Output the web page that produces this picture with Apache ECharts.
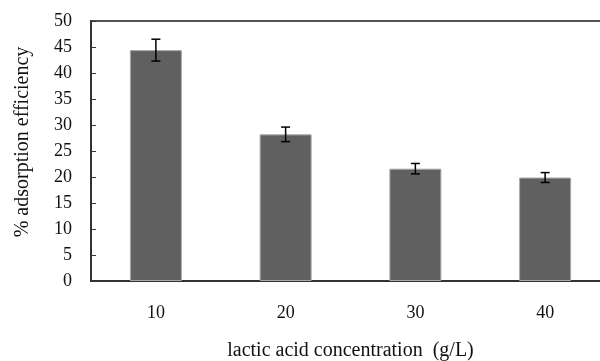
<!DOCTYPE html>
<html>
<head>
<meta charset="utf-8">
<script src="https://cdn.jsdelivr.net/npm/echarts@6/dist/echarts.min.js"></script>
<style>
  html, body { margin: 0; padding: 0; background: #fff; }
  #chart { width: 600px; height: 361px; }
</style>
</head>
<body>
<div id="chart"></div>
<script>
// data
const categories = ['10', '20', '30', '40'];
const efficiency = [44.4, 28.2, 21.6, 19.9];
const errors = [2.1, 1.4, 1.0, 0.95];

const font = 'Liberation Serif';
const chart = echarts.init(document.getElementById('chart'));

// error bar pairs [category index, low, high]
const errData = efficiency.map((v, i) => [i, v - errors[i], v + errors[i]]);

chart.setOption({
  animation: false,
  grid: {
    left: 91, top: 21, width: 519, height: 260,
    outerBoundsMode: 'none',
    containLabel: false,
    show: true, borderColor: '#555', borderWidth: 2
  },
  xAxis: {
    type: 'category',
    data: categories,
    name: 'lactic acid concentration  (g/L)',
    nameLocation: 'middle',
    nameGap: 60,
    nameTextStyle: { fontFamily: font, fontSize: 20, color: '#111' },
    axisLine: { lineStyle: { color: '#333', width: 2 } },
    axisTick: { show: false },
    axisLabel: { fontFamily: font, fontSize: 18, color: '#111', margin: 23 }
  },
  yAxis: {
    type: 'value',
    min: 0, max: 50, interval: 5,
    name: '% adsorption efficiency',
    nameLocation: 'middle',
    nameGap: 58,
    nameTextStyle: { fontFamily: font, fontSize: 20, color: '#111', padding: [0, 0, 0, 18] },
    axisLine: { show: true, lineStyle: { color: '#333', width: 2 } },
    axisTick: { show: true, inside: true, length: 5, lineStyle: { color: '#333' } },
    axisLabel: { fontFamily: font, fontSize: 18, color: '#111', margin: 19 },
    splitLine: { show: false }
  },
  series: [
    {
      type: 'bar',
      data: efficiency,
      barWidth: 52,
      itemStyle: { color: '#606060', borderColor: '#aaa', borderWidth: 1 }
    },
    {
      type: 'custom',
      data: errData,
      z: 10,
      renderItem: function (params, api) {
        const x = api.value(0);
        const lo = api.coord([x, api.value(1)]);
        const hi = api.coord([x, api.value(2)]);
        const half = 4.5;
        const style = { stroke: '#000', lineWidth: 1.5 };
        return {
          type: 'group',
          children: [
            { type: 'line', shape: { x1: hi[0], y1: hi[1], x2: lo[0], y2: lo[1] }, style: style },
            { type: 'line', shape: { x1: hi[0] - half, y1: hi[1], x2: hi[0] + half, y2: hi[1] }, style: style },
            { type: 'line', shape: { x1: lo[0] - half, y1: lo[1], x2: lo[0] + half, y2: lo[1] }, style: style }
          ]
        };
      }
    }
  ]
});
</script>
</body>
</html>
